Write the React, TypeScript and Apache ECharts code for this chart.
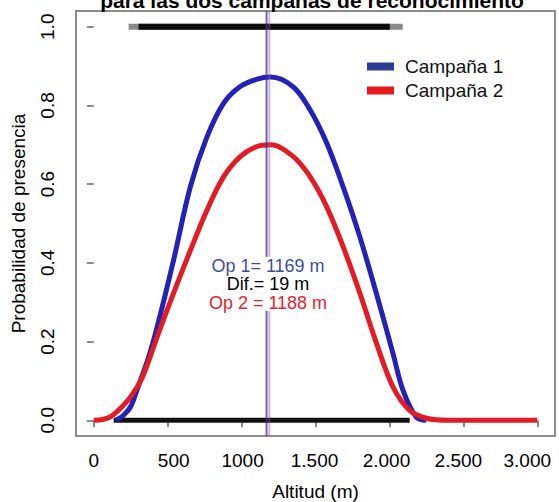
import React, { useEffect, useRef } from "react";
import * as echarts from "echarts";

// ---- data ----
const xTicks = [0, 500, 1000, 1500, 2000, 2500, 3000];
const xTickLabels = ["0", "500", "1000", "1.500", "2.000", "2.500", "3.000"];
const yTicks = [0, 0.2, 0.4, 0.6, 0.8, 1.0];
const yTickLabels = ["0.0", "0.2", "0.4", "0.6", "0.8", "1.0"];

const campana1Alt = [150, 200, 250, 300, 371, 429, 540, 654, 766, 879, 991, 1100, 1195, 1350, 1463, 1575, 1687, 1800, 1912, 2024, 2092, 2182, 2250];
const campana1Prob = [0.0, 0.012, 0.035, 0.085, 0.16, 0.237, 0.407, 0.594, 0.72, 0.806, 0.848, 0.866, 0.872, 0.847, 0.789, 0.705, 0.593, 0.466, 0.322, 0.17, 0.076, 0.008, 0.0];

const campana2Alt = [0, 60, 115, 180, 250, 330, 429, 540, 654, 766, 879, 991, 1100, 1195, 1350, 1463, 1575, 1687, 1800, 1912, 2024, 2137, 2250, 2400, 3000];
const campana2Prob = [0, 0.002, 0.009, 0.03, 0.06, 0.11, 0.212, 0.323, 0.432, 0.534, 0.619, 0.67, 0.695, 0.7, 0.67, 0.619, 0.543, 0.441, 0.323, 0.196, 0.085, 0.025, 0.005, 0, 0];

const presenceRange = [236, 2090];
const presenceCore = [303, 2002];
const absenceRange = [135, 2137];

const optimo1 = 1169;
const optimo2 = 1188;
const diferencia = 19;

const seriesNames = ["Campaña 1", "Campaña 2"];

// layout/style helpers (not data)
const xLabelNudge = [0, 6, 1, -1, -3, -5, -10];
const yMin = -0.04;
const yMax = 1.04;
const textGap = [0.278, 0.415]; // vertical span kept clear behind the annotation

const BLUE = "#2222b8";
const RED = "#e21c24";

export default function App() {
  const ref = useRef<HTMLDivElement>(null);
  useEffect(() => {
    if (!ref.current) return;
    const chart = echarts.init(ref.current, undefined, { renderer: "svg" });
    const font = "Liberation Sans, Arial, sans-serif";
    const rich: Record<string, any> = {};
    xLabelNudge.forEach((d, i) => {
      rich["r" + i] = {
        fontSize: 19,
        fontFamily: font,
        color: "#000",
        padding: d >= 0 ? [0, 0, 0, 2 * d] : [0, -2 * d, 0, 0],
      };
    });
    const annot = (color: string) => ({
      fontSize: 18,
      fontFamily: font,
      fill: color,
      color,
      lineHeight: 18.5,
      align: "center",
    });
    const vSeries = (x: number, color: string, width: number) => [
      [[x, yMin], [x, textGap[0]]],
      [[x, textGap[1]], [x, yMax]],
    ].map((d) => ({
      type: "line",
      data: d,
      symbol: "none",
      silent: true,
      clip: false,
      lineStyle: { color, width },
      z: 5,
    }));
    chart.setOption({
      animation: false,
      backgroundColor: "#fff",
      grid: {
        left: 76,
        right: 4,
        top: 11,
        bottom: 66,
        show: true,
        containLabel: false,
        outerBoundsMode: "none",
        borderColor: "#8c8c8c",
        borderWidth: 2,
        backgroundColor: "transparent",
      },
      legend: {
        orient: "vertical",
        left: 362,
        top: 52,
        itemWidth: 27,
        itemHeight: 8,
        itemGap: 5,
        icon: "rect",
        textStyle: { fontSize: 19, fontFamily: font, color: "#111", padding: [0, 0, 0, 6] },
        data: [
          { name: seriesNames[0], itemStyle: { color: "#2e3b96" } },
          { name: seriesNames[1], itemStyle: { color: "#e31a1c" } },
        ],
      },
      xAxis: {
        type: "value",
        min: -120,
        max: 3120,
        splitLine: { show: false },
        axisLine: { show: false },
        axisTick: {
          show: true,
          customValues: xTicks,
          length: 7,
          lineStyle: { color: "#8c8c8c", width: 2 },
        },
        axisLabel: {
          customValues: xTicks,
          margin: 15,
          fontSize: 19,
          fontFamily: font,
          color: "#000",
          formatter: (v: number) => {
            const i = xTicks.indexOf(v);
            return i >= 0 ? `{r${i}|${xTickLabels[i]}}` : "";
          },
          rich,
        },
        name: "Altitud (m)",
        nameLocation: "middle",
        nameGap: 46,
        nameTextStyle: { fontSize: 19, fontFamily: font, color: "#000" },
      },
      yAxis: {
        type: "value",
        min: yMin,
        max: yMax,
        splitLine: { show: false },
        axisLine: { show: false },
        axisTick: {
          show: true,
          customValues: yTicks,
          length: 7,
          lineStyle: { color: "#8c8c8c", width: 2 },
        },
        axisLabel: {
          customValues: yTicks,
          rotate: 90,
          margin: 19,
          fontSize: 19,
          fontFamily: font,
          color: "#000",
          formatter: (v: number) => {
            let best = 0;
            yTicks.forEach((t, i) => {
              if (Math.abs(t - v) < Math.abs(yTicks[best] - v)) best = i;
            });
            return yTickLabels[best];
          },
        },
        name: "Probabilidad de presencia",
        nameLocation: "middle",
        nameGap: 48,
        nameRotate: 90,
        nameTextStyle: { fontSize: 19, fontFamily: font, color: "#000" },
      },
      series: [
        {
          type: "line",
          name: "absence",
          data: absenceRange.map((x) => [x, 0]),
          symbol: "none",
          lineStyle: { color: "#111", width: 5 },
          z: 1,
          silent: true,
        },
        {
          type: "line",
          name: "presenceEnds",
          data: presenceRange.map((x) => [x, 1]),
          symbol: "none",
          lineStyle: { color: "#8a8a8a", width: 6 },
          z: 1,
          silent: true,
        },
        {
          type: "line",
          name: "presence",
          data: presenceCore.map((x) => [x, 1]),
          symbol: "none",
          lineStyle: { color: "#0d0d0d", width: 6 },
          z: 1,
          silent: true,
        },
        {
          type: "line",
          name: seriesNames[0],
          data: campana1Alt.map((x, i) => [x, campana1Prob[i]]),
          smooth: 0.35,
          symbol: "none",
          color: BLUE,
          lineStyle: { color: BLUE, width: 5 },
          z: 2,
        },
        {
          type: "line",
          name: seriesNames[1],
          data: campana2Alt.map((x, i) => [x, campana2Prob[i]]),
          smooth: 0.35,
          symbol: "none",
          color: RED,
          lineStyle: { color: RED, width: 5 },
          z: 3,
        },
        ...vSeries(optimo1, "rgba(70,50,150,0.75)", 2),
        ...vSeries(optimo2, "rgba(150,90,160,0.45)", 2),
      ],
      graphic: [
        {
          type: "text",
          x: 312,
          y: -10,
          style: {
            text: "para las dos campañas de reconocimiento",
            align: "center",
            verticalAlign: "top",
            fontSize: 21,
            fontWeight: "bold",
            fontFamily: font,
            fill: "#000",
          },
          z: 10,
        },
        {
          type: "text",
          x: 268,
          y: 284,
          z: 100,
          style: {
            text: `{a|Op 1= ${optimo1} m}\n{b|Dif.= ${diferencia} m}\n{c|Op 2 = ${optimo2} m}`,
            align: "center",
            verticalAlign: "middle",
            rich: {
              a: annot("#3b4ea0"),
              b: annot("#000"),
              c: annot("#e8212a"),
            },
          },
        },
      ],
    });
    return () => chart.dispose();
  }, []);
  return <div ref={ref} style={{ width: 559, height: 502, position: "absolute", left: 0, top: 0 }} />;
}
